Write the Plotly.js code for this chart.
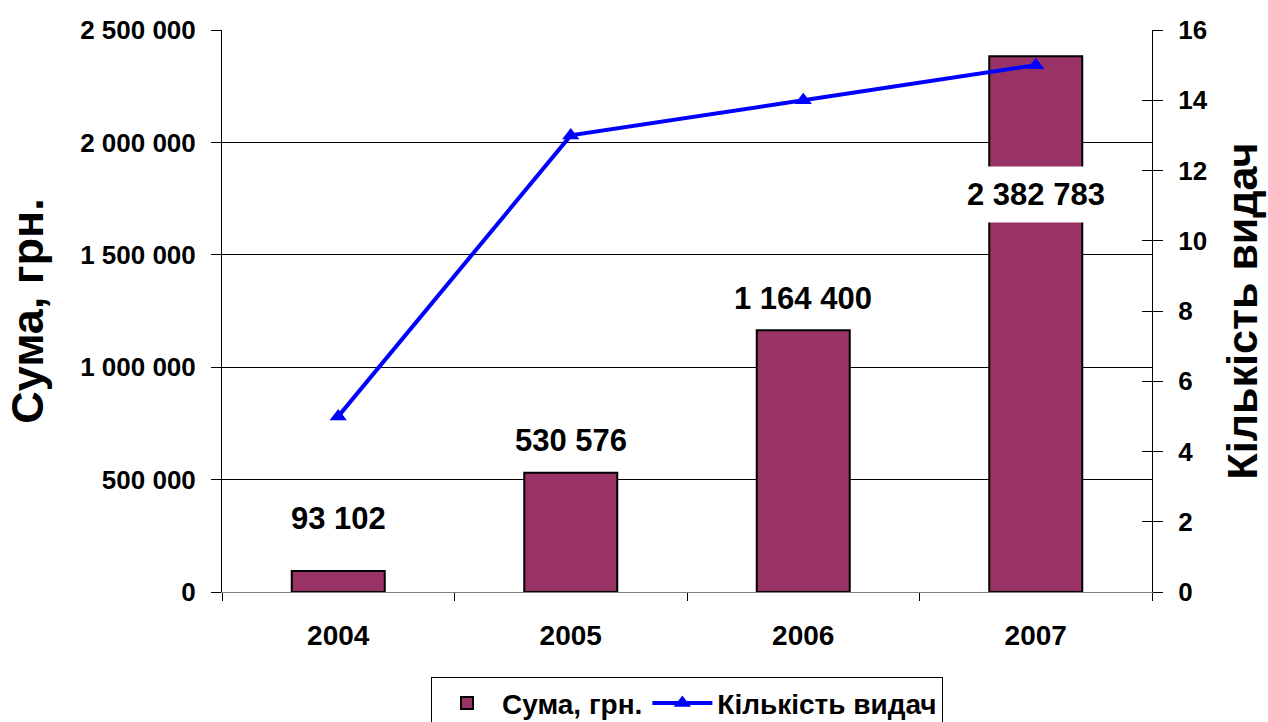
<!DOCTYPE html>
<html>
<head>
<meta charset="utf-8">
<script src="https://cdn.plot.ly/plotly-3.0.1.min.js"></script>
<style>html,body{margin:0;padding:0;background:#fff;}#chart{width:1268px;height:722px;}</style>
</head>
<body>
<div id="chart"></div>
<script>
const years = ['2004', '2005', '2006', '2007'];
const sums = [93102, 530576, 1164400, 2382783];
const counts = [5, 13, 14, 15];
const labelShift = [53, 32, 32, -138];

function fmt(v) { return String(v).replace(/\B(?=(\d{3})+(?!\d))/g, ' '); }

const FONT = 'Liberation Sans, Arial, sans-serif';

const traces = [
  {
    type: 'bar', name: 'Сума, грн.', x: years, y: sums,
    marker: {color: '#993366', line: {color: '#000000', width: 2}},
    width: 0.4
  },
  {
    type: 'scatter', mode: 'lines+markers', name: 'Кількість видач', x: years, y: counts,
    yaxis: 'y2',
    line: {color: '#0000FF', width: 4},
    marker: {symbol: 'triangle-up', size: 15, color: '#0000FF'}
  },
  // empty helper traces so the inner tick axes are drawn (crossing tick marks)
  {type: 'scatter', mode: 'none', x: [], y: [], yaxis: 'y3', showlegend: false, hoverinfo: 'skip'},
  {type: 'scatter', mode: 'none', x: [], y: [], yaxis: 'y4', showlegend: false, hoverinfo: 'skip'}
];

const annotations = years.map((yr, i) => ({
  x: i, y: sums[i], xref: 'x', yref: 'y', text: fmt(sums[i]),
  showarrow: false, yshift: labelShift[i],
  font: {family: FONT, size: 31, color: '#000', weight: 'bold'},
  bgcolor: i === 3 ? '#FFFFFF' : 'rgba(0,0,0,0)', borderpad: 10
}));

const layout = {
  width: 1268, height: 722,
  margin: {l: 222, r: 116, t: 30, b: 130, autoexpand: false},
  paper_bgcolor: '#fff', plot_bgcolor: '#fff',
  separators: ', ',
  showlegend: true,
  legend: {
    orientation: 'h', x: 0.5, xanchor: 'center', y: -0.152, yanchor: 'top',
    bordercolor: '#000', borderwidth: 1, bgcolor: '#fff',
    font: {family: FONT, size: 28, color: '#000', weight: 'bold'},
    itemwidth: 60, traceorder: 'normal'
  },
  xaxis: {
    type: 'category', autotypenumbers: 'strict', range: [-0.5, 3.5],
    tickson: 'boundaries', ticks: 'outside', ticklen: 8, tickcolor: '#000',
    showline: true, linecolor: '#808080', linewidth: 1, showgrid: false,
    ticklabelstandoff: 18, automargin: false,
    tickfont: {family: FONT, size: 28, color: '#000', weight: 'bold'}
  },
  yaxis: {
    range: [0, 2500000], dtick: 500000, tickformat: ',d',
    showgrid: true, gridcolor: '#000', gridwidth: 1,
    showline: true, linecolor: '#000', linewidth: 1,
    ticks: 'outside', ticklen: 10, tickcolor: '#000',
    ticklabelstandoff: 10,
    zeroline: false, automargin: false,
    tickfont: {family: FONT, size: 26, color: '#000', weight: 'bold'},
    title: {text: 'Сума, грн.', font: {family: FONT, size: 45, color: '#000', weight: 'bold'}, standoff: 22}
  },
  yaxis2: {
    overlaying: 'y', side: 'right', range: [0, 16], dtick: 2,
    showgrid: false, zeroline: false, automargin: false,
    showline: true, linecolor: '#000', linewidth: 1,
    ticks: 'outside', ticklen: 10, tickcolor: '#000',
    ticklabelstandoff: 10,
    tickfont: {family: FONT, size: 26, color: '#000', weight: 'bold'},
    title: {text: 'Кількість видач', font: {family: FONT, size: 43, color: '#000', weight: 'bold'}, standoff: 20}
  },
  yaxis3: {
    overlaying: 'y', side: 'right', range: [0, 16], dtick: 2, anchor: 'x',
    showgrid: false, zeroline: false, showticklabels: false, showline: false,
    ticks: 'inside', ticklen: 10, tickcolor: '#000', automargin: false
  },
  yaxis4: {
    overlaying: 'y', side: 'left', range: [0, 2500000], dtick: 500000, anchor: 'x',
    showgrid: false, zeroline: false, showticklabels: false, showline: false,
    ticks: 'inside', ticklen: 10, tickcolor: '#000', automargin: false
  },
  annotations: annotations
};

Plotly.newPlot('chart', traces, layout, {displayModeBar: false, staticPlot: true});
</script>
</body>
</html>
